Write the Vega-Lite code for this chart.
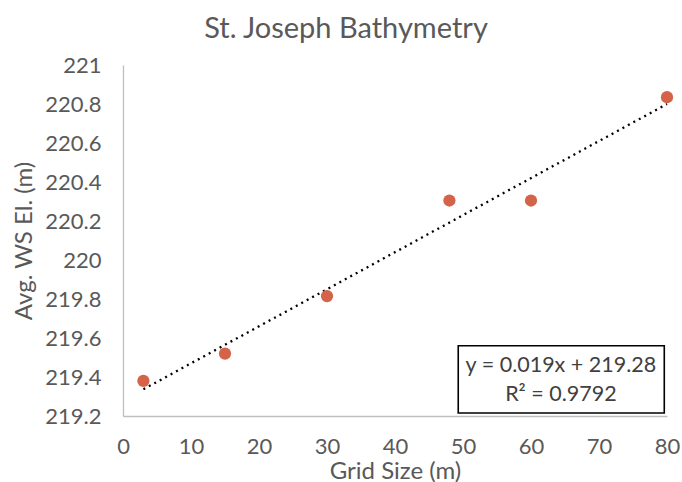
{
  "$schema": "https://vega.github.io/schema/vega-lite/v6.json",
  "width": 544,
  "height": 351,
  "autosize": {"type": "none"},
  "padding": {"left": 123, "top": 65, "right": 15, "bottom": 66},
  "background": "white",
  "config": {
    "view": {"stroke": null},
    "font": "Lato",
    "axis": {"grid": false, "ticks": false, "domainColor": "#BFBFBF", "domainWidth": 1.3, "labelColor": "#595959", "titleColor": "#595959", "labelFont": "Lato", "titleFont": "Lato", "labelFontSize": 22, "titleFontSize": 24, "titleFontWeight": "normal"}
  },
  "title": {"text": "St. Joseph Bathymetry", "fontSize": 29, "fontWeight": "normal", "color": "#595959", "font": "Lato", "offset": 10, "dx": -49},
  "datasets": {
    "pts": [
      {"grid": 3, "ws": 219.38},
      {"grid": 15, "ws": 219.52},
      {"grid": 30, "ws": 219.815},
      {"grid": 48, "ws": 220.305},
      {"grid": 60, "ws": 220.305},
      {"grid": 80, "ws": 220.835}
    ],
    "trend": [
      {"grid": 3, "ws": 219.337},
      {"grid": 80, "ws": 220.80}
    ],
    "box": [
      {"grid": 49.3, "grid2": 79.6, "ws": 219.215, "ws2": 219.56}
    ],
    "eq": [
      {"grid": 64.4, "ws": 219.456, "label": "y = 0.019x + 219.28"},
      {"grid": 64.4, "ws": 219.308, "label": "R² = 0.9792"}
    ]
  },
  "encoding": {
    "x": {"field": "grid", "type": "quantitative", "scale": {"domain": [0, 80], "nice": false}, "axis": {"values": [0, 10, 20, 30, 40, 50, 60, 70, 80], "title": "Grid Size (m)", "labelPadding": 20, "titlePadding": 2, "labelOverlap": false, "labelFlush": false}},
    "y": {"field": "ws", "type": "quantitative", "scale": {"domain": [219.2, 221], "nice": false, "zero": false}, "axis": {"values": [219.2, 219.4, 219.6, 219.8, 220, 220.2, 220.4, 220.6, 220.8, 221], "tickCount": 10, "format": ".4~r", "title": "Avg. WS El. (m)", "labelPadding": 22, "titlePadding": 8, "labelOverlap": false, "labelFlush": false, "labelBound": false}}
  },
  "layer": [
    {
      "data": {"name": "trend"},
      "mark": {"type": "line", "color": "black", "strokeWidth": 2.3, "strokeDash": [2, 4.2], "strokeCap": "butt"}
    },
    {
      "data": {"name": "pts"},
      "mark": {"type": "point", "filled": true, "opacity": 1, "color": "#D4634A", "size": 150}
    },
    {
      "data": {"name": "box"},
      "mark": {"type": "rect", "fill": "white", "stroke": "black", "strokeWidth": 1.6},
      "encoding": {
        "x2": {"field": "grid2"},
        "y2": {"field": "ws2"}
      }
    },
    {
      "data": {"name": "eq"},
      "mark": {"type": "text", "fontSize": 21.5, "color": "#404040", "font": "Lato", "baseline": "middle", "align": "center"},
      "encoding": {
        "text": {"field": "label"}
      }
    }
  ]
}
